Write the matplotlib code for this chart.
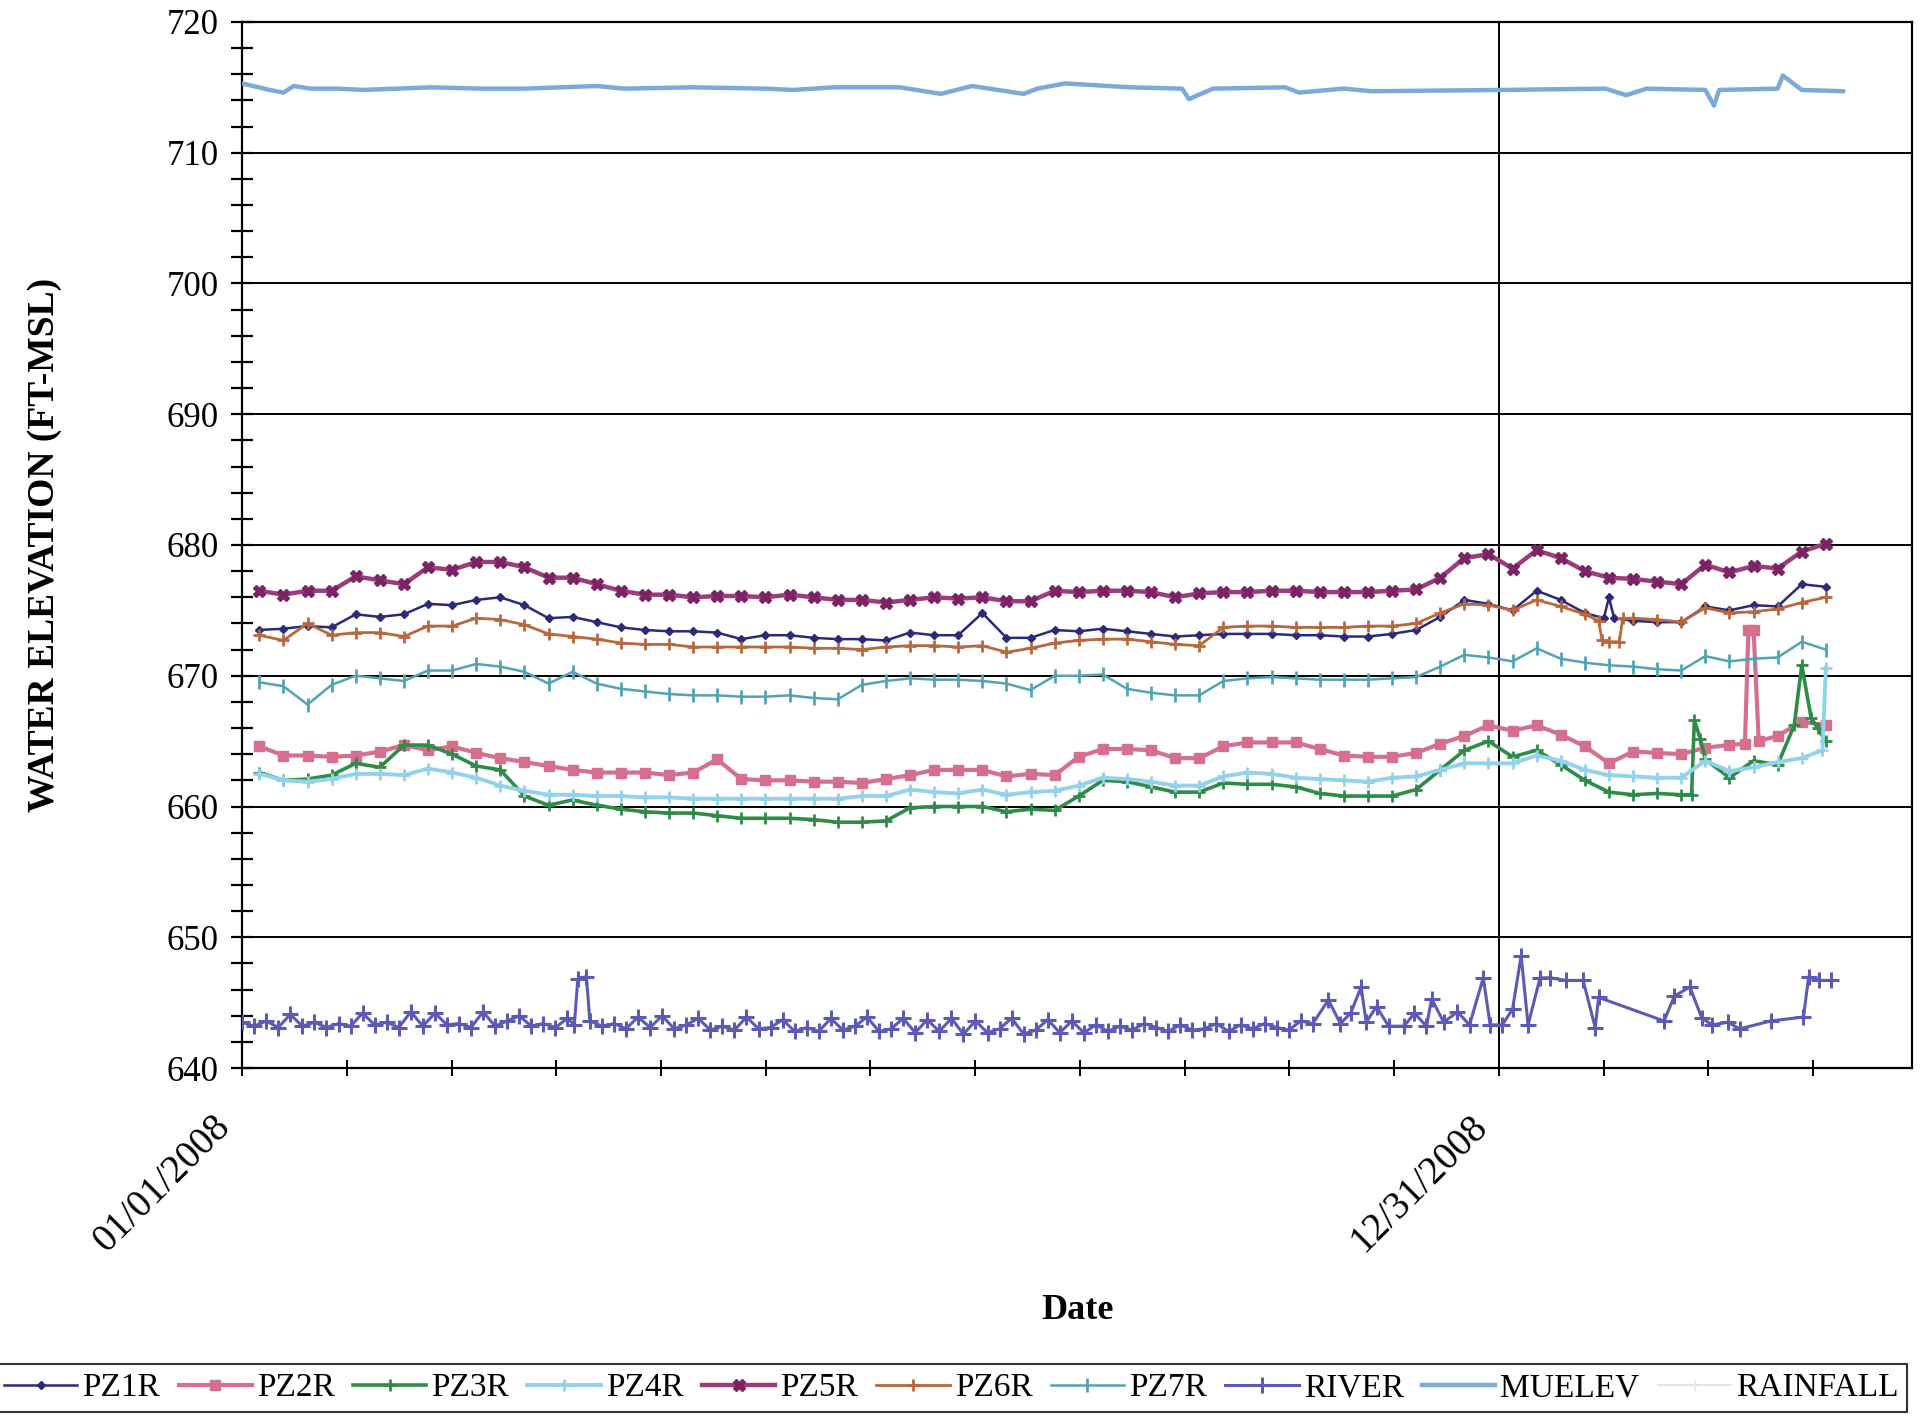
import numpy as np
import pandas as pd
import matplotlib
matplotlib.use("Agg")
import matplotlib.pyplot as plt
import matplotlib.dates as mdates
from matplotlib.ticker import FixedLocator, MultipleLocator
from matplotlib.transforms import ScaledTranslation

plt.rcParams['font.family'] = ['Liberation Serif', 'DejaVu Serif']

START = pd.Timestamp('2008-01-01')

# Weekly piezometer readings (ft-MSL), first reading 2008-01-06
WELL_DATES = pd.date_range('2008-01-06', periods=66, freq='7D')

PZ1R = [673.5, 673.6, 673.8, 673.7, 674.7, 674.5, 674.7, 675.5, 675.4, 675.8,
        676.0, 675.4, 674.4, 674.5, 674.1, 673.7, 673.5, 673.4, 673.4, 673.3,
        672.8, 673.1, 673.1, 672.9, 672.8, 672.8, 672.7, 673.3, 673.1, 673.1,
        674.8, 672.9, 672.9, 673.5, 673.4, 673.6, 673.4, 673.2, 673.0, 673.1,
        673.2, 673.2, 673.2, 673.1, 673.1, 673.0, 673.0, 673.2, 673.5, 674.5,
        675.8, 675.5, 675.0, 676.5, 675.8, 674.8, 676.0, 674.2, 674.1, 674.1,
        675.3, 675.0, 675.4, 675.3, 677.0, 676.8]
PZ2R = [664.6, 663.9, 663.9, 663.8, 663.9, 664.2, 664.7, 664.3, 664.6, 664.1,
        663.7, 663.4, 663.1, 662.8, 662.6, 662.6, 662.6, 662.4, 662.6, 663.6,
        662.1, 662.0, 662.0, 661.9, 661.9, 661.8, 662.1, 662.4, 662.8, 662.8,
        662.8, 662.3, 662.5, 662.4, 663.8, 664.4, 664.4, 664.3, 663.7, 663.7,
        664.6, 664.9, 664.9, 664.9, 664.4, 663.9, 663.8, 663.8, 664.1, 664.8,
        665.4, 666.2, 665.8, 666.2, 665.5, 664.6, 663.3, 664.2, 664.1, 664.0,
        664.5, 664.7, 673.5, 665.4, 666.5, 666.2]
PZ3R = [662.6, 662.0, 662.1, 662.4, 663.3, 663.0, 664.7, 664.7, 664.0, 663.1,
        662.8, 660.8, 660.1, 660.5, 660.1, 659.8, 659.6, 659.5, 659.5, 659.3,
        659.1, 659.1, 659.1, 659.0, 658.8, 658.8, 658.9, 659.9, 660.0, 660.0,
        660.0, 659.6, 659.8, 659.7, 660.8, 662.0, 661.9, 661.5, 661.1, 661.1,
        661.8, 661.7, 661.7, 661.5, 661.0, 660.8, 660.8, 660.8, 661.3, 662.8,
        664.3, 665.0, 663.8, 664.3, 663.2, 662.0, 661.1, 660.9, 661.0, 660.9,
        663.6, 662.2, 663.5, 663.2, 670.8, 665.0]
PZ4R = [662.5, 662.0, 661.9, 662.1, 662.5, 662.5, 662.4, 662.9, 662.6, 662.2,
        661.6, 661.2, 660.9, 660.9, 660.8, 660.8, 660.7, 660.7, 660.6, 660.6,
        660.6, 660.6, 660.6, 660.6, 660.6, 660.8, 660.8, 661.3, 661.1, 661.0,
        661.3, 660.9, 661.1, 661.2, 661.6, 662.2, 662.1, 661.9, 661.6, 661.6,
        662.3, 662.6, 662.5, 662.2, 662.1, 662.0, 661.9, 662.2, 662.3, 662.8,
        663.3, 663.3, 663.3, 663.9, 663.5, 662.8, 662.4, 662.3, 662.2, 662.2,
        663.5, 662.7, 663.0, 663.4, 663.7, 670.6]
PZ5R = [676.5, 676.2, 676.5, 676.5, 677.6, 677.3, 677.0, 678.3, 678.1, 678.7,
        678.7, 678.3, 677.5, 677.5, 677.0, 676.5, 676.2, 676.2, 676.0, 676.1,
        676.1, 676.0, 676.2, 676.0, 675.8, 675.8, 675.6, 675.8, 676.0, 675.9,
        676.0, 675.7, 675.7, 676.5, 676.4, 676.5, 676.5, 676.4, 676.0, 676.3,
        676.4, 676.4, 676.5, 676.5, 676.4, 676.4, 676.4, 676.5, 676.6, 677.5,
        679.0, 679.3, 678.2, 679.6, 679.0, 678.0, 677.5, 677.4, 677.2, 677.0,
        678.5, 677.9, 678.4, 678.2, 679.5, 680.1]
PZ6R = [673.1, 672.7, 674.0, 673.1, 673.3, 673.3, 673.0, 673.8, 673.8, 674.4,
        674.3, 673.9, 673.2, 673.0, 672.8, 672.5, 672.4, 672.4, 672.2, 672.2,
        672.2, 672.2, 672.2, 672.1, 672.1, 672.0, 672.2, 672.3, 672.3, 672.2,
        672.3, 671.8, 672.1, 672.5, 672.7, 672.8, 672.8, 672.6, 672.4, 672.3,
        673.7, 673.8, 673.8, 673.7, 673.7, 673.7, 673.8, 673.8, 674.0, 674.8,
        675.5, 675.4, 675.0, 675.8, 675.3, 674.7, 672.6, 674.4, 674.3, 674.1,
        675.2, 674.8, 674.9, 675.1, 675.6, 676.0]
PZ7R = [669.5, 669.2, 667.8, 669.3, 670.0, 669.8, 669.6, 670.4, 670.4, 670.9,
        670.7, 670.3, 669.4, 670.3, 669.4, 669.0, 668.8, 668.6, 668.5, 668.5,
        668.4, 668.4, 668.5, 668.3, 668.2, 669.3, 669.6, 669.8, 669.7, 669.7,
        669.6, 669.4, 668.9, 670.0, 670.0, 670.1, 669.0, 668.7, 668.5, 668.5,
        669.6, 669.8, 669.9, 669.8, 669.7, 669.7, 669.7, 669.8, 669.9, 670.7,
        671.6, 671.4, 671.1, 672.1, 671.3, 671.0, 670.8, 670.7, 670.5, 670.4,
        671.5, 671.1, 671.3, 671.4, 672.6, 672.0]

# Additional non-weekly readings (days after 2008-01-01)
PZ1R_EXTRA_DAYS = [395.5, 398.5]
PZ1R_EXTRA_VALS = [674.4, 674.4]
PZ2R_EXTRA_DAYS = [436.5, 437.5, 440.5]
PZ2R_EXTRA_VALS = [664.8, 673.5, 665.0]
PZ3R_EXTRA_DAYS = [421.0, 421.8, 423.5, 450.8, 455.7, 457.6]
PZ3R_EXTRA_VALS = [660.9, 666.6, 665.2, 666.2, 666.8, 666.0]
PZ4R_EXTRA_DAYS = [459.0]
PZ4R_EXTRA_VALS = [664.3]
PZ6R_EXTRA_DAYS = [394.0, 395.0, 400.0, 401.0]
PZ6R_EXTRA_VALS = [674.2, 672.7, 672.6, 674.4]

# River stage (days after 2008-01-01)
RIVER_DAYS = [0, 3.5, 7, 10.5, 14, 17.5, 21, 24.5, 28, 31.5,
              35, 38.5, 42, 45.5, 49, 52.5, 56, 59.5, 63, 66.5,
              70, 73.5, 77, 80.5, 84, 87.5, 91, 94.5, 96.5, 97.5,
              100, 101, 104.5, 108, 111.5, 115, 118.5, 122, 125.5, 129,
              132.5, 136, 139.5, 143, 146.5, 150, 153.5, 157, 160.5, 164,
              167.5, 171, 174.5, 178, 181.5, 185, 188.5, 192, 195.5, 199,
              202.5, 206, 209.5, 213, 216.5, 220, 223.5, 227, 230.5, 234,
              237.5, 241, 244.5, 248, 251.5, 255, 258.5, 262, 265.5, 269,
              272.5, 276, 279.5, 283, 286.5, 290, 293.5, 297, 300.5, 304,
              307.5, 311, 315.5, 319, 322, 325, 326.5, 329.5, 333, 337.5,
              340.5, 344, 345.5, 349, 353, 356.5, 360.5, 362.5, 366, 369,
              371.5, 373.5, 377, 380, 384.5, 389.5, 393, 394, 413, 416,
              420.5, 424, 427, 431.5, 435, 444, 453.5, 455, 458, 461.5]
RIVER = [643.5, 643.2, 643.6, 643.1, 644.1, 643.2, 643.5, 643.1, 643.4, 643.2,
         644.2, 643.3, 643.5, 643.1, 644.3, 643.2, 644.2, 643.3, 643.4, 643.1,
         644.3, 643.2, 643.6, 644.0, 643.2, 643.4, 643.1, 643.8, 643.3, 646.8,
         647.0, 643.6, 643.2, 643.4, 643.0, 643.9, 643.1, 644.0, 643.0, 643.3,
         643.8, 642.9, 643.2, 642.9, 643.9, 643.0, 643.1, 643.7, 642.8, 643.1,
         642.8, 643.8, 642.9, 643.2, 643.9, 642.8, 643.0, 643.8, 642.7, 643.7,
         642.8, 643.8, 642.6, 643.6, 642.7, 643.0, 643.8, 642.6, 642.9, 643.7,
         642.7, 643.6, 642.7, 643.3, 642.8, 643.2, 642.9, 643.4, 643.1, 642.8,
         643.3, 642.9, 643.0, 643.4, 642.8, 643.3, 643.0, 643.4, 643.1, 642.9,
         643.6, 643.4, 645.2, 643.4, 644.2, 646.2, 643.5, 644.7, 643.2, 643.2,
         644.2, 643.2, 645.3, 643.5, 644.3, 643.3, 646.9, 643.3, 643.3, 644.5,
         648.6, 643.3, 646.9, 646.9, 646.7, 646.7, 643.1, 645.4, 643.6, 645.5,
         646.2, 643.8, 643.3, 643.5, 643.0, 643.6, 643.9, 647.0, 646.7, 646.7]

# Mueller elevation (days after 2008-01-01)
MUELEV_DAYS = [0, 8, 12, 15, 20, 28, 35, 55, 69, 82,
               103, 111, 131, 152, 160, 172, 191, 203, 212, 227,
               231, 239, 258, 273, 275, 282, 303, 307, 320, 328,
               366, 396, 402, 408, 425, 427.5, 429, 446, 447.5, 453,
               465]
MUELEV = [715.3, 714.8, 714.6, 715.1, 714.9, 714.9, 714.8, 715.0, 714.9, 714.9,
          715.1, 714.9, 715.0, 714.9, 714.8, 715.0, 715.0, 714.5, 715.1, 714.5,
          714.9, 715.3, 715.0, 714.9, 714.1, 714.9, 715.0, 714.6, 714.9, 714.7,
          714.8, 714.9, 714.4, 714.9, 714.8, 713.6, 714.8, 714.9, 715.9, 714.8,
          714.7]

RAINFALL_DAYS = []
RAINFALL = []

X_TICK_LABELS = ['01/01/2008', '12/31/2008']
X_TICK_DATES = [pd.Timestamp('2008-01-01'), pd.Timestamp('2008-12-31')]


def to_dates(days):
    return START + pd.to_timedelta(np.asarray(days, dtype=float), unit='D')


def merged(values, extra_days=(), extra_vals=()):
    s = pd.Series(values, index=WELL_DATES)
    if len(extra_days):
        s = pd.concat([s, pd.Series(extra_vals, index=to_dates(extra_days))])
    return s.sort_index()


fig = plt.figure(figsize=(19.26, 14.25), dpi=100)
ax = fig.add_axes([0.1257, 0.2505, 0.9927 - 0.1257, 0.9846 - 0.2505])

ax.plot(to_dates(MUELEV_DAYS), MUELEV, color='#7BAAD9', lw=3.2, label='MUELEV', zorder=3)
ax.plot(to_dates(RIVER_DAYS), RIVER, color='#5B5BB5', lw=2.2, marker='+', ms=11, mew=2.2,
        label='RIVER', zorder=3)

series = [
    ('PZ1R', merged(PZ1R, PZ1R_EXTRA_DAYS, PZ1R_EXTRA_VALS),
     dict(color='#2A2A78', lw=1.8, marker='D', ms=4)),
    ('PZ2R', merged(PZ2R, PZ2R_EXTRA_DAYS, PZ2R_EXTRA_VALS),
     dict(color='#D4708E', lw=3.0, marker='s', ms=7)),
    ('PZ3R', merged(PZ3R, PZ3R_EXTRA_DAYS, PZ3R_EXTRA_VALS),
     dict(color='#2F8C48', lw=2.6, marker='+', ms=8, mew=2)),
    ('PZ4R', merged(PZ4R, PZ4R_EXTRA_DAYS, PZ4R_EXTRA_VALS),
     dict(color='#92D2EA', lw=2.8, marker='+', ms=8, mew=2)),
    ('PZ5R', merged(PZ5R),
     dict(color='#9C3C78', lw=3.2, marker='X', ms=9, mfc='#7A2466', mec='#7A2466')),
    ('PZ6R', merged(PZ6R, PZ6R_EXTRA_DAYS, PZ6R_EXTRA_VALS),
     dict(color='#B8683C', lw=2.0, marker='+', ms=8, mew=2)),
    ('PZ7R', merged(PZ7R),
     dict(color='#52A3B3', lw=1.8, marker='|', ms=10, mew=2)),
]
handles = {}
for name, s, style in series:
    handles[name], = ax.plot(s.index, s.values, label=name, zorder=4, **style)

handles['RAINFALL'], = ax.plot(to_dates(RAINFALL_DAYS), RAINFALL, color='#E4E4E4', lw=1.5,
                               marker='+', ms=8, label='RAINFALL')
for ln in ax.get_lines():
    handles.setdefault(ln.get_label(), ln)

# axes limits and ticks
ax.set_ylim(640, 720)
ax.set_xlim(START, START + pd.Timedelta(days=485))
ax.yaxis.set_major_locator(MultipleLocator(10))
ax.yaxis.set_minor_locator(MultipleLocator(2))
ax.xaxis.set_major_locator(FixedLocator(mdates.date2num(X_TICK_DATES)))
ax.set_xticklabels(X_TICK_LABELS)
minor_days = np.arange(0, 486, 365 / 12)
ax.xaxis.set_minor_locator(FixedLocator(mdates.date2num(to_dates(minor_days))))

ax.tick_params(axis='y', which='both', direction='inout', length=16, width=1.6,
               labelsize=25, pad=9)
ax.tick_params(axis='x', which='both', direction='inout', length=12, width=1.4,
               labelsize=28, pad=23)
for lbl in ax.get_xticklabels():
    lbl.set_rotation(45)
    lbl.set_ha('right')
    lbl.set_va('top')
    lbl.set_rotation_mode('anchor')
    lbl.set_transform(lbl.get_transform() + ScaledTranslation(-0.30, 0, fig.dpi_scale_trans))

ax.grid(True, which='major', axis='both', color='black', lw=1.4)
ax.set_axisbelow(True)
for sp in ax.spines.values():
    sp.set_linewidth(1.6)
    sp.set_color('black')

ax.set_ylabel('WATER ELEVATION (FT-MSL)', fontsize=27, fontweight='bold')
ax.yaxis.set_label_coords(-0.108, 0.5)
ax.set_xlabel('Date', fontsize=26, fontweight='bold')
ax.xaxis.set_label_coords(0.5, -0.216)

order = ['PZ1R', 'PZ2R', 'PZ3R', 'PZ4R', 'PZ5R', 'PZ6R', 'PZ7R', 'RIVER', 'MUELEV', 'RAINFALL']
leg = fig.legend([handles[k] for k in order], order, loc='center',
                 bbox_to_anchor=(0.494, 0.026), ncol=10, fontsize=24, frameon=True,
                 fancybox=False, edgecolor='black', handlelength=2.2,
                 handletextpad=0.15, columnspacing=0.55, borderpad=0.25)
leg.get_frame().set_linewidth(1.5)

fig.savefig('out.png', dpi=100)
